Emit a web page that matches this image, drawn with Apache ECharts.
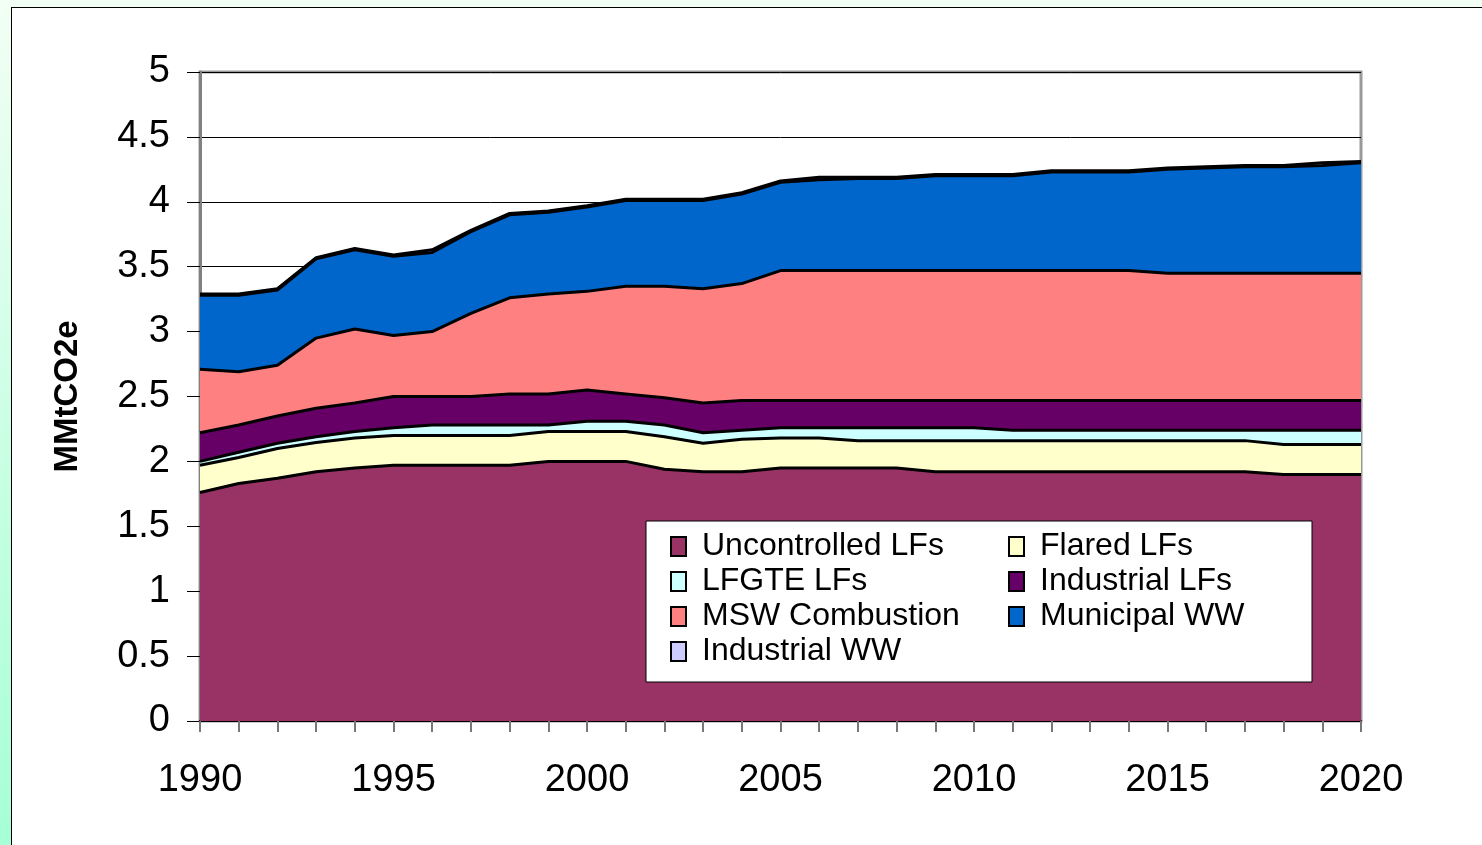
<!DOCTYPE html>
<html>
<head>
<meta charset="utf-8">
<script src="https://cdn.jsdelivr.net/npm/echarts@6/dist/echarts.min.js"></script>
<style>
  html, body { margin: 0; padding: 0; }
  body {
    width: 1482px; height: 845px; overflow: hidden;
    background: linear-gradient(to bottom, #f2fff4, #a6ffd6);
  }
  #panel {
    position: absolute; left: 11px; top: 7px; right: -2px; bottom: -2px;
    background: #fff; border: 1px solid #000;
  }
  #chart { position: absolute; left: 0; top: 0; width: 1482px; height: 845px; }
</style>
</head>
<body>
<div id="panel"></div>
<div id="chart"></div>
<script>
const years = [];
for (let y = 1990; y <= 2020; y++) years.push(String(y));

// MMtCO2e per source, stacked bottom to top
const uncontrolled = [1.76,1.83,1.87,1.92,1.95,1.97,1.97,1.97,1.97,2.00,2.00,2.00,1.94,1.92,1.92,1.95,1.95,1.95,1.95,1.92,1.92,1.92,1.92,1.92,1.92,1.92,1.92,1.92,1.90,1.90,1.90];
const flared = [0.21,0.20,0.23,0.225,0.23,0.23,0.23,0.23,0.23,0.23,0.23,0.23,0.25,0.22,0.25,0.23,0.23,0.21,0.21,0.24,0.24,0.24,0.24,0.24,0.24,0.24,0.24,0.24,0.23,0.23,0.23];
const lfgte = [0.03,0.04,0.04,0.045,0.05,0.06,0.08,0.08,0.08,0.05,0.08,0.08,0.09,0.08,0.07,0.08,0.08,0.10,0.10,0.10,0.10,0.08,0.08,0.08,0.08,0.08,0.08,0.08,0.11,0.11,0.11];
const industrialLF = [0.22,0.21,0.21,0.22,0.22,0.24,0.22,0.22,0.24,0.24,0.24,0.21,0.21,0.23,0.23,0.21,0.21,0.21,0.21,0.21,0.21,0.23,0.23,0.23,0.23,0.23,0.23,0.23,0.23,0.23,0.23];
const mswCombustion = [0.49,0.41,0.39,0.54,0.57,0.47,0.50,0.64,0.74,0.77,0.76,0.83,0.86,0.88,0.90,1.00,1.00,1.00,1.00,1.00,1.00,1.00,1.00,1.00,1.00,0.98,0.98,0.98,0.98,0.98,0.98];
const municipalWW = [0.57,0.59,0.58,0.61,0.61,0.61,0.61,0.63,0.64,0.63,0.65,0.66,0.66,0.68,0.69,0.68,0.70,0.71,0.71,0.73,0.73,0.73,0.76,0.76,0.76,0.80,0.81,0.82,0.82,0.83,0.85];
const industrialWW = [0.01,0.01,0.01,0.01,0.01,0.01,0.02,0.01,0.01,0.01,0.01,0.01,0.01,0.01,0.01,0.01,0.02,0.01,0.01,0.01,0.01,0.01,0.01,0.01,0.01,0.01,0.01,0.01,0.01,0.02,0.01];

const names = ['Uncontrolled LFs','Flared LFs','LFGTE LFs','Industrial LFs','MSW Combustion','Municipal WW','Industrial WW'];
const colors = ['#993366','#ffffcc','#ccffff','#660066','#ff8080','#0066cc','#ccccff'];
const values = [uncontrolled, flared, lfgte, industrialLF, mswCombustion, municipalWW, industrialWW];

const font = "'Liberation Sans', Arial, sans-serif";

const chart = echarts.init(document.getElementById('chart'));
const option = {
  backgroundColor: 'transparent',
  animation: false,
  grid: {
    left: 200, right: 121, top: 72, bottom: 124,
    show: true, borderColor: '#999', borderWidth: 3, backgroundColor: 'transparent'
  },
  legend: {
    left: 646, top: 521, width: 640,
    padding: [8, 42, 13, 24],
    backgroundColor: '#fff', borderColor: '#000', borderWidth: 1,
    itemGap: 0, itemWidth: 15, itemHeight: 19, icon: 'rect',
    itemStyle: { borderColor: '#000', borderWidth: 2 },
    textStyle: { fontFamily: font, fontSize: 32, color: '#000', lineHeight: 35, padding: [0, 0, 0, 11] },
    data: names.map((n, i) => ({
      name: n,
      textStyle: { width: (i % 2 === 0) ? 306 : 230 }
    }))
  },
  xAxis: {
    type: 'category', data: years, boundaryGap: false,
    axisLine: { lineStyle: { color: '#000', width: 2 } },
    axisTick: { interval: 0, length: 11, lineStyle: { color: '#777', width: 2 } },
    axisLabel: { interval: 4, fontFamily: font, fontSize: 38, color: '#000', margin: 41 },
    splitLine: { show: false }
  },
  yAxis: {
    type: 'value', min: 0, max: 5, interval: 0.5,
    name: 'MMtCO2e', nameLocation: 'middle', nameGap: 116,
    nameTextStyle: { fontFamily: font, fontSize: 33, fontWeight: 'bold', color: '#000' },
    axisLine: { show: true, lineStyle: { color: '#808080', width: 3 } },
    axisTick: { show: true, length: 13, lineStyle: { color: '#000', width: 1 } },
    axisLabel: { fontFamily: font, fontSize: 38, color: '#000', margin: 30 },
    splitLine: { lineStyle: { color: '#000', width: 1 } }
  },
  series: names.map((n, i) => ({
    name: n, type: 'line', stack: 'total', data: values[i],
    symbol: 'none', smooth: false,
    itemStyle: { color: colors[i] },
    lineStyle: { color: '#000', width: 3 },
    areaStyle: { color: colors[i], opacity: 1 }
  }))
};
chart.setOption(option);
window.addEventListener('resize', () => chart.resize());
</script>
</body>
</html>
